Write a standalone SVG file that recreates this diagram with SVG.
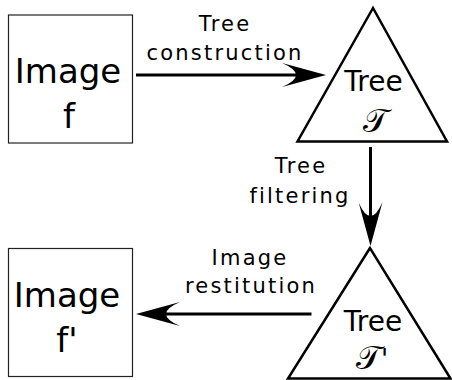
<svg xmlns="http://www.w3.org/2000/svg" width="452" height="380" viewBox="0 0 452 380">
  <style>
    .box { fill: #ffffff; stroke: #222222; stroke-width: 1.2; }
    .tri { fill: #ffffff; stroke: #000000; stroke-width: 2.5; stroke-linejoin: miter; }
    .big { font-family: "DejaVu Sans", sans-serif; font-size: 34px; fill: #000; text-anchor: middle; }
    .mid { font-family: "DejaVu Sans", sans-serif; font-size: 28px; fill: #000; text-anchor: middle; }
    .math { font-family: "DejaVu Serif", "DejaVu Sans", serif; font-size: 33px; fill: #000; text-anchor: middle; }
    .prime { font-family: "DejaVu Serif", serif; font-size: 28px; }
    .lbl { font-family: "DejaVu Sans", sans-serif; font-size: 21px; letter-spacing: 2.2px; fill: #000; text-anchor: middle; }
    .conn { stroke: #000; stroke-width: 3; fill: none; marker-end: url(#ah); }
  </style>
  <defs>
    <marker id="ah" viewBox="0 0 44 24" markerWidth="44" markerHeight="24" refX="14" refY="12" orient="auto" markerUnits="userSpaceOnUse">
      <path d="M0,0 L44,12 L0,24 Q28,12 0,0 Z" fill="#000"/>
    </marker>
  </defs>

  <g id="connectors">
    <line class="conn" x1="136" y1="75" x2="296" y2="75"/>
    <line class="conn" x1="370.5" y1="147" x2="370.5" y2="216"/>
    <line class="conn" x1="311.5" y1="314" x2="166" y2="314"/>
    <text class="lbl" x="225" y="31">Tree</text>
    <text class="lbl" x="225" y="60">construction</text>
    <text class="lbl" x="301" y="173">Tree</text>
    <text class="lbl" x="300" y="203">filtering</text>
    <text class="lbl" x="250" y="265">Image</text>
    <text class="lbl" x="251" y="293">restitution</text>
  </g>

  <g id="image-f">
    <rect class="box" x="8.5" y="15" width="124" height="128"/>
    <text class="big" x="68" y="82.7">Image</text>
    <text class="big" x="69" y="127.5">f</text>
  </g>

  <g id="tree-t">
    <polygon class="tri" points="373,8 297.5,141.5 447,141.5"/>
    <text class="mid" x="373.5" y="90.7">Tree</text>
    <text class="math" x="375" y="132">𝒯</text>
  </g>

  <g id="tree-t-prime">
    <polygon class="tri" points="370,248 288,378.5 450.5,378.5"/>
    <text class="mid" x="373" y="330.7">Tree</text>
    <text class="math" x="372" y="369">𝒯<tspan class="prime">'</tspan></text>
  </g>

  <g id="image-f-prime">
    <rect class="box" x="8.5" y="248.5" width="124" height="128"/>
    <text class="big" x="67" y="306.7">Image</text>
    <text class="big" x="67" y="351.7">f'</text>
  </g>
</svg>
